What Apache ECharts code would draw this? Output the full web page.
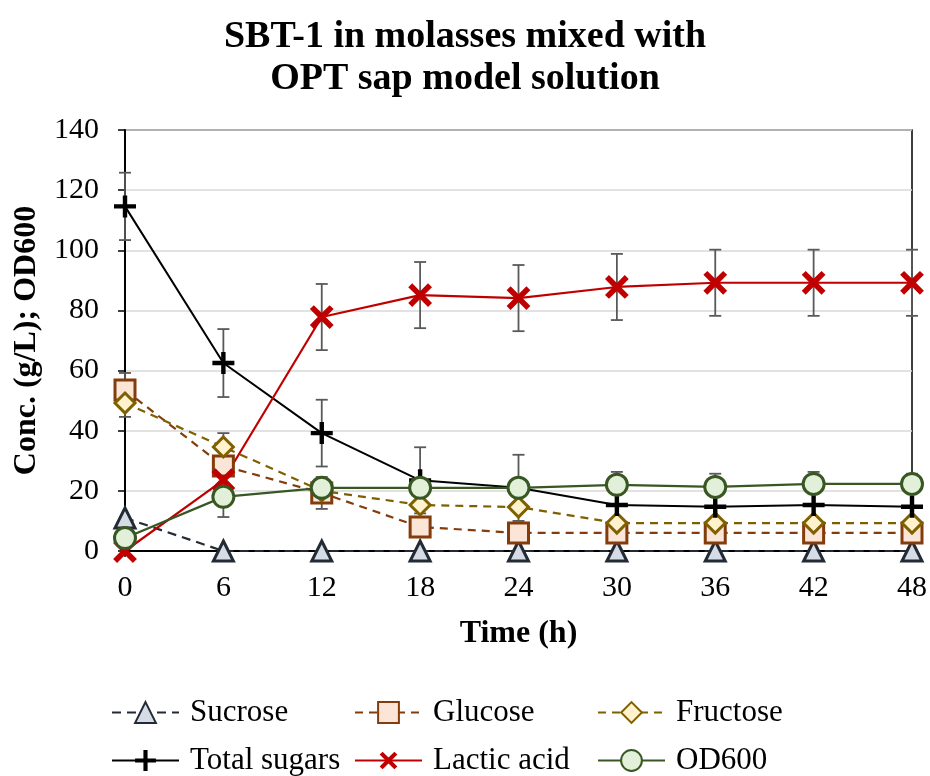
<!DOCTYPE html>
<html>
<head>
<meta charset="utf-8">
<script src="https://cdn.jsdelivr.net/npm/echarts@6/dist/echarts.min.js"></script>
<style>
  html, body { margin: 0; padding: 0; background: #fff; }
  #chart { width: 930px; height: 776px; }
</style>
</head>
<body>
<div id="chart"></div>
<script>
  // time points (h)
  const time = [0, 6, 12, 18, 24, 30, 36, 42, 48]
  // concentrations
  const sucrose = [11, 0, 0, 0, 0, 0, 0, 0, 0]
  const glucose = [53.5, 28.3, 19.3, 8, 6, 6, 6, 6, 6]
  const fructose = [49.2, 34.6, 20, 15.3, 14.6, 9.3, 9.3, 9.3, 9.3]
  const totalSugars = [114.6, 62.5, 39.2, 23.5, 21, 15.3, 14.7, 15.3, 14.7]
  const lactic = [0, 23.6, 77.8, 85.1, 84.1, 87.8, 89.2, 89.2, 89.2]
  const od600 = [4.3, 18, 21, 21, 21, 22, 21.3, 22.3, 22.3]
  // error bars (+/-)
  const glucoseErr = [5.7, 2, 5.3, 1, 1, 1, 1, 1, 1]
  const fructoseErr = [4.6, 4.6, 2, 1, 1, 1, 1, 1, 1]
  const totalErr = [11.2, 11.3, 11.1, 11, 11, 11, 11, 11, 11]
  const lacticErr = [0, 1, 11, 11, 11, 11, 11, 11, 11]
  const odErr = [1, 6.7, 2, 1, 1, 1, 1, 1, 1]
  // axis ticks
  const xTicks = { min: 0, max: 48, interval: 6 }
  const yTicks = { min: 0, max: 140, interval: 20 }

  const font = "'Liberation Serif', 'Times New Roman', serif"
  const plusPath = 'path://M4,0h2v4h4v2h-4v4h-2v-4h-4v-2h4z'

  // build error bar rows: [x, y, err]
  let errRows = []
  ;[[glucose, glucoseErr], [fructose, fructoseErr], [totalSugars, totalErr], [lactic, lacticErr], [od600, odErr]].forEach(pair => {
    time.forEach((t, i) => {
      if (pair[1][i] > 0) errRows.push([t, pair[0][i], pair[1][i]])
    })
  })

  const toPairs = arr => time.map((t, i) => [t, arr[i]])

  // one legend column
  const legendCol = (left, names) => ({
    left: left, top: 697, orient: 'vertical', itemGap: 17, padding: 0,
    itemWidth: 67, itemHeight: 26,
    textStyle: { fontFamily: font, fontSize: 31, color: '#000', padding: [0, 0, 0, 6] },
    data: names
  })

  let mycharts = echarts.init(document.getElementById('chart'))
  mycharts.setOption({
    animation: false,
    title: {
      text: 'SBT-1 in molasses mixed with\nOPT sap model solution',
      left: 'center',
      top: 11,
      textStyle: {
        fontFamily: font,
        fontWeight: 'bold',
        fontSize: 38,
        lineHeight: 42,
        color: '#000'
      }
    },
    grid: {
      left: 125,
      right: 18,
      top: 130,
      bottom: 225,
      show: true,
      borderColor: '#000',
      borderWidth: 1.5
    },
    xAxis: {
      type: 'value',
      min: xTicks.min,
      max: xTicks.max,
      interval: xTicks.interval,
      name: 'Time (h)',
      nameLocation: 'middle',
      nameGap: 67,
      nameTextStyle: { fontFamily: font, fontWeight: 'bold', fontSize: 32, color: '#000' },
      axisLine: { lineStyle: { color: '#000', width: 2 } },
      axisTick: { show: true, length: 6, lineStyle: { color: '#000', width: 1.5 } },
      axisLabel: { fontFamily: font, fontSize: 30, color: '#000', margin: 22 },
      splitLine: { show: false }
    },
    yAxis: {
      type: 'value',
      min: yTicks.min,
      max: yTicks.max,
      interval: yTicks.interval,
      name: 'Conc. (g/L); OD600',
      nameLocation: 'middle',
      nameRotate: 90,
      nameGap: 82,
      nameTextStyle: { fontFamily: font, fontWeight: 'bold', fontSize: 32, color: '#000' },
      axisLine: { show: true, lineStyle: { color: '#000', width: 2 } },
      axisTick: { show: true, length: 7, lineStyle: { color: '#000', width: 1.5 } },
      axisLabel: { fontFamily: font, fontSize: 30, color: '#000', margin: 26 },
      splitLine: { show: true, lineStyle: { color: '#d9d9d9', width: 1.5 } }
    },
    legend: [
      legendCol(111, ['Sucrose', 'Total sugars']),
      legendCol(354, ['Glucose', 'Lactic acid']),
      legendCol(597, ['Fructose', 'OD600'])
    ],
    series: [
      {
        // error bars drawn under the lines
        type: 'custom',
        z: 1,
        silent: true,
        data: errRows,
        renderItem: function (params, api) {
          let x = api.value(0), y = api.value(1), e = api.value(2)
          let top = api.coord([x, y + e])
          let bot = api.coord([x, y - e])
          let w = 6
          let st = { stroke: '#595959', lineWidth: 1.8 }
          return {
            type: 'group',
            children: [
              { type: 'line', shape: { x1: top[0], y1: top[1], x2: bot[0], y2: bot[1] }, style: st },
              { type: 'line', shape: { x1: top[0] - w, y1: top[1], x2: top[0] + w, y2: top[1] }, style: st },
              { type: 'line', shape: { x1: bot[0] - w, y1: bot[1], x2: bot[0] + w, y2: bot[1] }, style: st }
            ]
          }
        }
      },
      {
        name: 'Sucrose',
        type: 'line',
        z: 3,
        data: toPairs(sucrose),
        symbol: 'triangle',
        symbolSize: 20,
        lineStyle: { color: '#222a35', width: 2.2, type: [9, 6] },
        itemStyle: { color: '#d6dce5', borderColor: '#222a35', borderWidth: 3 }
      },
      {
        name: 'Glucose',
        type: 'line',
        z: 3,
        data: toPairs(glucose),
        symbol: 'rect',
        symbolSize: 20,
        lineStyle: { color: '#843c0c', width: 2.2, type: [8, 6] },
        itemStyle: { color: '#fbe5d6', borderColor: '#843c0c', borderWidth: 3, borderRadius: 2 }
      },
      {
        name: 'Fructose',
        type: 'line',
        z: 3,
        data: toPairs(fructose),
        symbol: 'diamond',
        symbolSize: 20,
        lineStyle: { color: '#7f6000', width: 2.2, type: [8, 6] },
        itemStyle: { color: '#fff2cc', borderColor: '#7f6000', borderWidth: 3 }
      },
      {
        name: 'Total sugars',
        type: 'line',
        z: 3,
        data: toPairs(totalSugars),
        symbol: plusPath,
        symbolSize: 22,
        lineStyle: { color: '#000', width: 2 },
        itemStyle: { color: '#000', borderWidth: 0 }
      },
      {
        name: 'Lactic acid',
        type: 'line',
        z: 3,
        data: toPairs(lactic),
        symbol: plusPath,
        symbolRotate: 45,
        symbolSize: 28,
        lineStyle: { color: '#c00000', width: 2.2 },
        itemStyle: { color: '#c00000', borderWidth: 0 }
      },
      {
        name: 'OD600',
        type: 'line',
        z: 3,
        data: toPairs(od600),
        symbol: 'circle',
        symbolSize: 21,
        lineStyle: { color: '#385723', width: 2.2 },
        itemStyle: { color: '#e2f0d9', borderColor: '#385723', borderWidth: 3 }
      }
    ]
  })
</script>
</body>
</html>
